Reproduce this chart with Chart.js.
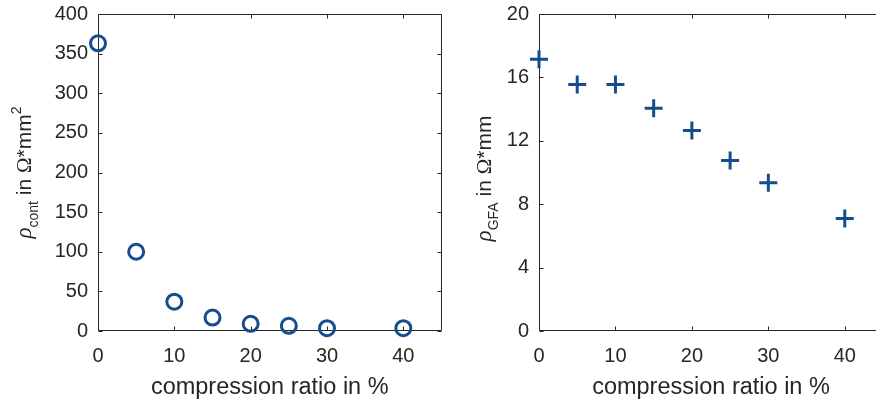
<!DOCTYPE html>
<html>
<head>
<meta charset="utf-8">
<script src="https://cdn.jsdelivr.net/npm/chart.js@4/dist/chart.umd.min.js"></script>
<style>
  html, body { margin: 0; padding: 0; background: #fff; overflow: hidden; width: 876px; height: 404px; }
  #wrap { position: relative; width: 876px; height: 404px; overflow: hidden; }
  .cv { position: absolute; top: 0; }
</style>
</head>
<body>
<div id="wrap">
  <div class="cv" style="left:0;width:452px;height:404px"><canvas id="c1" width="452" height="404"></canvas></div>
  <div class="cv" style="left:450px;width:452px;height:404px"><canvas id="c2" width="452" height="404"></canvas></div>
</div>
<script>
// ---- data ----
const compression = [0, 5, 10, 15, 20, 25, 30, 40];
const rhoCont = [363, 100, 37, 17, 9, 6.5, 3.5, 3.5];
const rhoGFA = [17.15, 15.55, 15.55, 14.05, 12.65, 10.75, 9.35, 7.1];
const xTicks = [0, 10, 20, 30, 40];
const yTicksCont = [0, 50, 100, 150, 200, 250, 300, 350, 400];
const yTicksGFA = [0, 4, 8, 12, 16, 20];

const INK = '#262626';
const BLUE = '#164d8e';
const SANS = '"Liberation Sans", Arial, Helvetica, sans-serif';
const TICK_FONT = 20;
const LABEL_FONT = 23.5;

function drawRotatedRich(ctx, parts, baselineX, cy) {
  ctx.save();
  ctx.translate(baselineX, cy);
  ctx.rotate(-Math.PI / 2);
  ctx.fillStyle = INK;
  ctx.textBaseline = 'alphabetic';
  ctx.textAlign = 'left';
  let total = 0;
  parts.forEach(p => { ctx.font = p.font; p.w = ctx.measureText(p.text).width; total += p.w; });
  let x = -total / 2;
  parts.forEach(p => { ctx.font = p.font; ctx.fillText(p.text, x, p.dy || 0); x += p.w; });
  ctx.restore();
}

function makeFramePlugin(yParts, titleX, titleShift) {
  return {
    id: 'frame',
    beforeDatasetsDraw(chart) {
      const { ctx, chartArea: a, scales: { x, y } } = chart;
      ctx.save();
      ctx.strokeStyle = INK;
      ctx.lineWidth = 1;
      const L = Math.round(a.left) + 0.5, R = Math.round(a.right) - 0.5;
      const T = Math.round(a.top) + 0.5, B = Math.round(a.bottom) - 0.5;
      ctx.beginPath();
      ctx.rect(L, T, R - L, B - T);
      ctx.stroke();
      const tl = 4;
      ctx.beginPath();
      x.ticks.forEach(t => {
        const px = Math.round(x.getPixelForValue(t.value)) + 0.5;
        ctx.moveTo(px, B); ctx.lineTo(px, B - tl);
        ctx.moveTo(px, T); ctx.lineTo(px, T + tl);
      });
      y.ticks.forEach(t => {
        const py = Math.round(y.getPixelForValue(t.value)) + 0.5;
        ctx.moveTo(L, py); ctx.lineTo(L + tl, py);
        ctx.moveTo(R, py); ctx.lineTo(R - tl, py);
      });
      ctx.stroke();
      ctx.restore();
    },
    afterDraw(chart) {
      const { ctx, chartArea: a } = chart;
      ctx.save();
      ctx.fillStyle = INK;
      ctx.font = LABEL_FONT + 'px ' + SANS;
      ctx.textAlign = 'center';
      ctx.textBaseline = 'alphabetic';
      ctx.fillText('compression ratio in %', (a.left + a.right) / 2, 394);
      ctx.restore();
      drawRotatedRich(ctx, yParts, titleX, (a.top + a.bottom) / 2 + titleShift);
    }
  };
}

function makeChart(id, yData, yTicks, yMax, pointStyle, radius, target, yParts, titleX, titleShift) {
  return new Chart(document.getElementById(id), {
    type: 'scatter',
    data: {
      datasets: [{
        data: compression.map((c, i) => ({ x: c, y: yData[i] })),
        pointStyle: pointStyle,
        pointRadius: radius,
        pointHoverRadius: radius,
        pointBorderWidth: 3,
        pointHoverBorderWidth: 3,
        borderColor: BLUE,
        backgroundColor: 'rgba(0,0,0,0)',
        showLine: false,
        clip: false
      }]
    },
    options: {
      responsive: false,
      animation: false,
      events: [],
      layout: { padding: { top: target.top, right: 452 - target.right, left: 0, bottom: 0 } },
      plugins: { legend: { display: false }, tooltip: { enabled: false } },
      scales: {
        x: {
          type: 'linear', min: 0, max: 45,
          grid: { display: false, drawTicks: false },
          border: { display: false },
          ticks: { color: INK, font: { family: SANS, size: TICK_FONT }, padding: 13, maxRotation: 0 },
          afterBuildTicks: s => { s.ticks = xTicks.map(v => ({ value: v })); },
          afterFit: s => { s.height = 404 - target.bottom; s.paddingLeft = 0; s.paddingRight = 0; }
        },
        y: {
          type: 'linear', min: 0, max: yMax,
          grid: { display: false, drawTicks: false },
          border: { display: false },
          ticks: { color: INK, font: { family: SANS, size: TICK_FONT }, padding: 10 },
          afterBuildTicks: s => { s.ticks = yTicks.map(v => ({ value: v })); },
          afterFit: s => { s.width = target.left; s.paddingTop = 0; s.paddingBottom = 0; }
        }
      }
    },
    plugins: [makeFramePlugin(yParts, titleX, titleShift)]
  });
}

const serifIt = 'italic 23px "Liberation Serif", serif';
const main = '21px ' + SANS;
const sub = '14px ' + SANS;

makeChart('c1', rhoCont, yTicksCont, 400, 'circle', 7.5,
  { left: 98, top: 14, right: 445, bottom: 331 },
  [
    { text: 'ρ', font: serifIt },
    { text: 'cont', font: sub, dy: 7 },
    { text: ' in ', font: main },
    { text: 'Ω', font: '21px "Liberation Serif", serif' },
    { text: '*mm', font: main },
    { text: '2', font: sub, dy: -10 }
  ], 31, 0);

makeChart('c2', rhoGFA, yTicksGFA, 20, 'cross', 9,
  { left: 539 - 450, top: 14, right: 883 - 450, bottom: 331 },
  [
    { text: 'ρ', font: serifIt },
    { text: 'GFA', font: sub, dy: 7 },
    { text: ' in ', font: main },
    { text: 'Ω', font: '21px "Liberation Serif", serif' },
    { text: '*mm', font: main }
  ], 41, 6);
</script>
</body>
</html>
